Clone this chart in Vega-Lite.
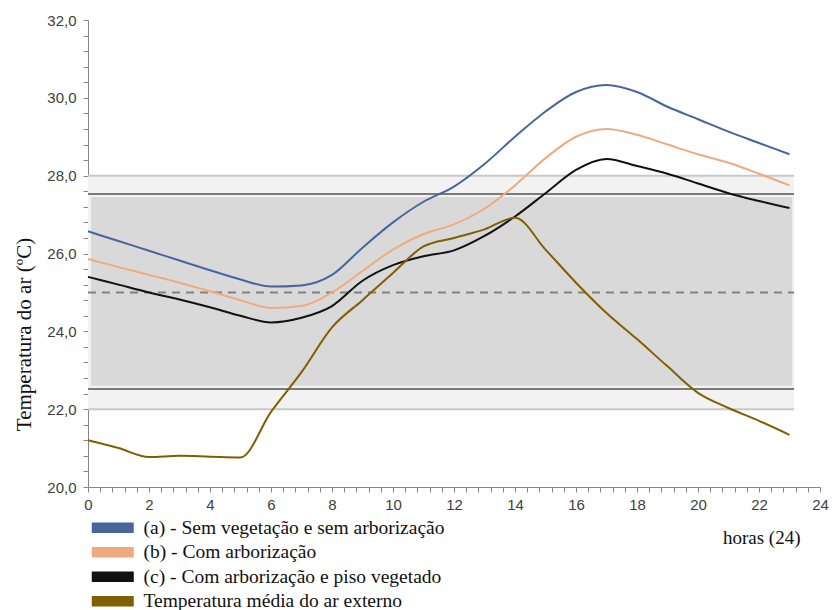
{
  "$schema": "https://vega.github.io/schema/vega-lite/v6.json",
  "autosize": {"type": "none"},
  "padding": {"left": 88, "top": 20, "right": 12, "bottom": 123},
  "width": 732,
  "height": 467,
  "background": "white",
  "config": {
    "view": {"stroke": null},
    "axis": {
      "grid": false,
      "domainColor": "#868686",
      "tickColor": "#868686",
      "tickSize": 5,
      "labelFont": "Liberation Sans",
      "labelFontSize": 15,
      "labelColor": "#404040",
      "titleFont": "Liberation Serif",
      "titleFontSize": 19,
      "titleFontWeight": "normal",
      "titleColor": "#111111"
    },
    "legend": {
      "labelFont": "Liberation Serif",
      "labelFontSize": 19.5,
      "labelColor": "#111111"
    }
  },
  "layer": [
    {
      "data": {"values": [{"h0": 0, "h1": 23.15, "lo": 22, "hi": 28}]},
      "mark": {"type": "rect", "fill": "#f2f2f2"},
      "encoding": {
        "x": {"field": "h0", "type": "quantitative", "scale": {"domain": [0, 24], "nice": false},
          "axis": {
            "title": "horas (24)",
            "tickCount": 200,
            "values": [0,0.4,0.8,1.2,1.6,2,2.4,2.8,3.2,3.6,4,4.4,4.8,5.2,5.6,6,6.4,6.8,7.2,7.6,8,8.4,8.8,9.2,9.6,10,10.4,10.8,11.2,11.6,12,12.4,12.8,13.2,13.6,14,14.4,14.8,15.2,15.6,16,16.4,16.8,17.2,17.6,18,18.4,18.8,19.2,19.6,20,20.4,20.8,21.2,21.6,22,22.4,22.8,23.2,23.6,24],
            "labelExpr": "abs(datum.value/2 - round(datum.value/2)) < 0.01 ? format(datum.value, 'd') : ''",
            "labelPadding": 5,
            "labelFlush": false,
            "labelOverlap": false,
            "titleX": 712,
            "titleY": 50,
            "titleAlign": "right",
            "titleBaseline": "middle"
          }},
        "x2": {"field": "h1"},
        "y": {"field": "lo", "type": "quantitative", "scale": {"domain": [20, 32], "nice": false},
          "axis": {
            "title": "Temperatura do ar (ºC)",
            "tickCount": 200,
            "values": [20,20.4,20.8,21.2,21.6,22,22.4,22.8,23.2,23.6,24,24.4,24.8,25.2,25.6,26,26.4,26.8,27.2,27.6,28,28.4,28.8,29.2,29.6,30,30.4,30.8,31.2,31.6,32],
            "labelExpr": "abs(datum.value/2 - round(datum.value/2)) < 0.01 ? replace(format(datum.value, '.1f'), '.', ',') : ''",
            "labelPadding": 7,
            "labelFlush": false,
            "labelOverlap": false,
            "titleFontSize": 21,
            "titleX": -64,
            "titleY": 314,
            "titleAngle": -90,
            "titleAlign": "center",
            "titleBaseline": "middle"
          }},
        "y2": {"field": "hi"}
      }
    },
    {
      "data": {"values": [{"h0": 0.1, "h1": 23.09, "lo": 22.6, "hi": 27.45}]},
      "mark": {"type": "rect", "fill": "#d9d9d9"},
      "encoding": {
        "x": {"field": "h0", "type": "quantitative"},
        "x2": {"field": "h1"},
        "y": {"field": "lo", "type": "quantitative"},
        "y2": {"field": "hi"}
      }
    },
    {
      "data": {"values": [{"t": 22}, {"t": 28}]},
      "mark": {"type": "rule", "color": "#c8c8c8", "strokeWidth": 2},
      "encoding": {
        "x": {"datum": 0, "type": "quantitative"},
        "x2": {"datum": 23.15},
        "y": {"field": "t", "type": "quantitative"}
      }
    },
    {
      "data": {"values": [{"t": 22.52}, {"t": 27.53}]},
      "mark": {"type": "rule", "color": "#7a7a7a", "strokeWidth": 2},
      "encoding": {
        "x": {"datum": 0, "type": "quantitative"},
        "x2": {"datum": 23.15},
        "y": {"field": "t", "type": "quantitative"}
      }
    },
    {
      "data": {"values": [{"t": 25}]},
      "mark": {"type": "rule", "color": "#808080", "strokeWidth": 2, "strokeDash": [8, 6]},
      "encoding": {
        "x": {"datum": 0, "type": "quantitative"},
        "x2": {"datum": 23.15},
        "y": {"field": "t", "type": "quantitative"}
      }
    },
    {
      "data": {"values": [
        {"h":0,"s":"a","T":26.57},{"h":1,"s":"a","T":26.32},{"h":2,"s":"a","T":26.07},{"h":3,"s":"a","T":25.82},{"h":4,"s":"a","T":25.57},{"h":5,"s":"a","T":25.33},{"h":6,"s":"a","T":25.15},{"h":7,"s":"a","T":25.18},{"h":8,"s":"a","T":25.45},{"h":9,"s":"a","T":26.15},{"h":10,"s":"a","T":26.8},{"h":11,"s":"a","T":27.33},{"h":12,"s":"a","T":27.72},{"h":13,"s":"a","T":28.3},{"h":14,"s":"a","T":29.0},{"h":15,"s":"a","T":29.65},{"h":16,"s":"a","T":30.15},{"h":17,"s":"a","T":30.33},{"h":18,"s":"a","T":30.15},{"h":19,"s":"a","T":29.77},{"h":20,"s":"a","T":29.45},{"h":21,"s":"a","T":29.13},{"h":22,"s":"a","T":28.84},{"h":23,"s":"a","T":28.55},
        {"h":0,"s":"b","T":25.86},{"h":1,"s":"b","T":25.65},{"h":2,"s":"b","T":25.45},{"h":3,"s":"b","T":25.25},{"h":4,"s":"b","T":25.03},{"h":5,"s":"b","T":24.8},{"h":6,"s":"b","T":24.6},{"h":7,"s":"b","T":24.65},{"h":8,"s":"b","T":25.0},{"h":9,"s":"b","T":25.55},{"h":10,"s":"b","T":26.1},{"h":11,"s":"b","T":26.5},{"h":12,"s":"b","T":26.75},{"h":13,"s":"b","T":27.15},{"h":14,"s":"b","T":27.75},{"h":15,"s":"b","T":28.45},{"h":16,"s":"b","T":29.0},{"h":17,"s":"b","T":29.2},{"h":18,"s":"b","T":29.05},{"h":19,"s":"b","T":28.8},{"h":20,"s":"b","T":28.55},{"h":21,"s":"b","T":28.33},{"h":22,"s":"b","T":28.05},{"h":23,"s":"b","T":27.75},
        {"h":0,"s":"c","T":25.4},{"h":1,"s":"c","T":25.2},{"h":2,"s":"c","T":25.0},{"h":3,"s":"c","T":24.82},{"h":4,"s":"c","T":24.62},{"h":5,"s":"c","T":24.4},{"h":6,"s":"c","T":24.23},{"h":7,"s":"c","T":24.35},{"h":8,"s":"c","T":24.65},{"h":9,"s":"c","T":25.3},{"h":10,"s":"c","T":25.7},{"h":11,"s":"c","T":25.93},{"h":12,"s":"c","T":26.08},{"h":13,"s":"c","T":26.45},{"h":14,"s":"c","T":26.95},{"h":15,"s":"c","T":27.55},{"h":16,"s":"c","T":28.15},{"h":17,"s":"c","T":28.43},{"h":18,"s":"c","T":28.25},{"h":19,"s":"c","T":28.05},{"h":20,"s":"c","T":27.8},{"h":21,"s":"c","T":27.55},{"h":22,"s":"c","T":27.35},{"h":23,"s":"c","T":27.17},
        {"h":0,"s":"ext","T":21.2},{"h":1,"s":"ext","T":21.0},{"h":2,"s":"ext","T":20.77},{"h":3,"s":"ext","T":20.8},{"h":4,"s":"ext","T":20.78},{"h":5,"s":"ext","T":20.76},{"h":6,"s":"ext","T":21.93},{"h":7,"s":"ext","T":22.95},{"h":8,"s":"ext","T":24.1},{"h":9,"s":"ext","T":24.8},{"h":10,"s":"ext","T":25.5},{"h":11,"s":"ext","T":26.18},{"h":12,"s":"ext","T":26.4},{"h":13,"s":"ext","T":26.62},{"h":14,"s":"ext","T":26.92},{"h":15,"s":"ext","T":26.1},{"h":16,"s":"ext","T":25.25},{"h":17,"s":"ext","T":24.47},{"h":18,"s":"ext","T":23.8},{"h":19,"s":"ext","T":23.1},{"h":20,"s":"ext","T":22.42},{"h":21,"s":"ext","T":22.03},{"h":22,"s":"ext","T":21.7},{"h":23,"s":"ext","T":21.34}
      ]},
      "mark": {"type": "line", "interpolate": "monotone", "strokeWidth": 2},
      "encoding": {
        "x": {"field": "h", "type": "quantitative"},
        "y": {"field": "T", "type": "quantitative"},
        "color": {
          "field": "s", "type": "nominal",
          "scale": {"domain": ["a", "b", "c", "ext"], "range": ["#47669e", "#eeab80", "#111111", "#7f6000"]},
          "legend": {
            "title": null,
            "orient": "none",
            "legendX": -1,
            "legendY": 498,
            "symbolType": "M-4.2,-1.05H4.2V1.05H-4.2Z",
            "symbolSize": 100,
            "symbolStrokeWidth": 0,
            "symbolOffset": 16,
            "labelOffset": 21,
            "labelLimit": 0,
            "rowPadding": 3.5,
            "encode": {
              "symbols": {"update": {"fill": {"scale": "color", "field": "value"}, "strokeWidth": {"value": 0}}}
            },
            "labelExpr": "datum.value == 'a' ? '(a) - Sem vegetação e sem arborização' : datum.value == 'b' ? '(b) - Com arborização' : datum.value == 'c' ? '(c) - Com arborização e piso vegetado' : 'Temperatura média do ar externo'"
          }
        }
      }
    }
  ]
}
